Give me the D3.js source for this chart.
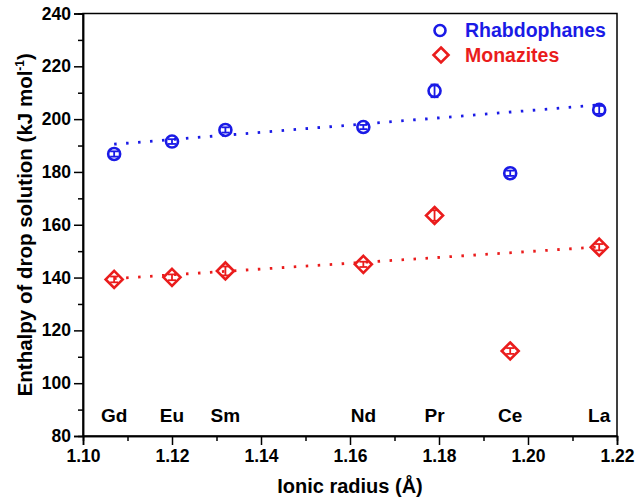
<!DOCTYPE html>
<html><head><meta charset="utf-8">
<script src="https://cdn.jsdelivr.net/npm/d3@7"></script>
<style>html,body{margin:0;padding:0;background:#fff;} text{font-family:"Liberation Sans",Arial,sans-serif;font-weight:bold;}</style>
</head><body>
<svg id="chart" width="638" height="501"></svg>
<script>
const elements = ["Gd","Eu","Sm","Nd","Pr","Ce","La"];
const radii = [1.107,1.120,1.132,1.163,1.179,1.196,1.216];
const rhabdophane = [186.8,191.5,195.9,197.0,210.7,179.5,203.5];
const rhabdophaneErr = [1.0,0.9,1.0,0.8,2.4,1.0,1.5];
const monazite = [139.3,140.1,142.5,145.0,163.5,112.2,151.5];
const monaziteErr = [1.1,1.1,1.7,1.0,2.0,1.1,1.2];
const rhabFitX = [1.107,1.216];
const rhabFitY = [190.5,205.4];
const monFitX = [1.107,1.216];
const monFitY = [139.6,151.6];
const xTicks = [1.10,1.12,1.14,1.16,1.18,1.20,1.22];
const yTicks = [80,100,120,140,160,180,200,220,240];

const BLUE = "#1a1ae6", RED = "#ea1c1c";
const m = {l:83, r:617, t:13.5, b:436};
const svg = d3.select("#chart");
const x = d3.scaleLinear().domain([1.10,1.22]).range([m.l,m.r]);
const y = d3.scaleLinear().domain([80,240]).range([m.b,m.t]);

// frame
svg.append("rect").attr("x",m.l).attr("y",m.t).attr("width",m.r-m.l).attr("height",m.b-m.t)
  .attr("fill","none").attr("stroke","#000").attr("stroke-width",1.5);

// axes
const xAxis = svg.append("g").attr("transform",`translate(0,${m.b})`)
  .call(d3.axisBottom(x).tickValues(xTicks).tickFormat(d3.format(".2f")).tickSize(9).tickPadding(5));
const xMinor = svg.append("g").attr("transform",`translate(0,${m.b})`)
  .call(d3.axisBottom(x).tickValues(d3.range(1.11,1.22,0.02)).tickFormat("").tickSize(5));
const yAxis = svg.append("g").attr("transform",`translate(${m.l},0)`)
  .call(d3.axisLeft(y).tickValues(yTicks).tickSize(9).tickPadding(3));
const yMinor = svg.append("g").attr("transform",`translate(${m.l},0)`)
  .call(d3.axisLeft(y).tickValues(d3.range(90,240,20)).tickFormat("").tickSize(5));
[xAxis,xMinor,yAxis,yMinor].forEach(g=>{
  g.select(".domain").attr("stroke","#000").attr("stroke-width",1.5);
  g.selectAll(".tick line").attr("stroke","#000").attr("stroke-width",1.5);
  g.selectAll(".tick text").attr("fill","#000").style("font-size","17.5px").style("font-weight","bold")
   .style("font-family","'Liberation Sans',Arial,sans-serif");
});

// axis titles
svg.append("text").attr("x",(m.l+m.r)/2).attr("y",493).attr("text-anchor","middle")
  .style("font-size","20px").text("Ionic radius (Å)");
const yt = svg.append("text").attr("transform",`translate(32,${(m.t+m.b)/2}) rotate(-90)`)
  .attr("text-anchor","middle").style("font-size","20.5px");
yt.append("tspan").text("Enthalpy of drop solution (kJ mol");
yt.append("tspan").attr("dy",-8).style("font-size","12px").text("-1");
yt.append("tspan").attr("dy",8).text(")");

// element labels
svg.append("g").selectAll("text").data(elements).join("text")
  .attr("x",(d,i)=>x(radii[i])).attr("y",422).attr("text-anchor","middle")
  .style("font-size","19px").attr("fill","#000").text(d=>d);

// fit lines
const line = d3.line().x(d=>x(d[0])).y(d=>y(d[1]));
svg.append("path").attr("d",line(rhabFitX.map((v,i)=>[v,rhabFitY[i]])))
  .attr("stroke",BLUE).attr("stroke-width",2.8).attr("stroke-dasharray","2.5,9.5").attr("fill","none");
svg.append("path").attr("d",line(monFitX.map((v,i)=>[v,monFitY[i]])))
  .attr("stroke",RED).attr("stroke-width",2.8).attr("stroke-dasharray","2.5,9.5").attr("fill","none");

// error bars
function errBars(vals, errs, color){
  const g = svg.append("g").attr("stroke",color).attr("stroke-width",1.8);
  vals.forEach((v,i)=>{
    const cx = x(radii[i]), y1 = y(v+errs[i]), y2 = y(v-errs[i]);
    g.append("line").attr("x1",cx).attr("x2",cx).attr("y1",y1).attr("y2",y2);
    g.append("line").attr("x1",cx-4).attr("x2",cx+4).attr("y1",y1).attr("y2",y1);
    g.append("line").attr("x1",cx-4).attr("x2",cx+4).attr("y1",y2).attr("y2",y2);
  });
}
// markers
svg.append("g").selectAll("circle").data(rhabdophane).join("circle")
  .attr("cx",(d,i)=>x(radii[i])).attr("cy",d=>y(d)).attr("r",6)
  .attr("fill","none").attr("stroke",BLUE).attr("stroke-width",2.6);
errBars(rhabdophane, rhabdophaneErr, BLUE);
const diamond = (cx,cy,s)=>`M${cx},${cy-s}L${cx+s},${cy}L${cx},${cy+s}L${cx-s},${cy}Z`;
svg.append("g").selectAll("path").data(monazite).join("path")
  .attr("d",(d,i)=>diamond(x(radii[i]),y(d),8.5))
  .attr("fill","none").attr("stroke",RED).attr("stroke-width",2.6).attr("stroke-linejoin","miter");
errBars(monazite, monaziteErr, RED);

// legend
svg.append("circle").attr("cx",440).attr("cy",30.5).attr("r",5.5).attr("fill","none").attr("stroke",BLUE).attr("stroke-width",2.6);
svg.append("path").attr("d",diamond(441,55,7.5)).attr("fill","none").attr("stroke",RED).attr("stroke-width",2.6);
svg.append("text").attr("x",465).attr("y",37).attr("fill",BLUE).style("font-size","19.5px").text("Rhabdophanes");
svg.append("text").attr("x",465).attr("y",62).attr("fill",RED).style("font-size","19.5px").text("Monazites");
</script>
</body></html>
